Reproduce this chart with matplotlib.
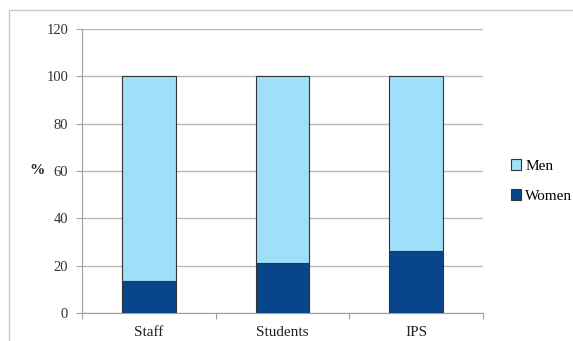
import matplotlib.pyplot as plt
from matplotlib.patches import Rectangle
import numpy as np

categories = ["Staff", "Students", "IPS"]
women = [13.5, 21.3, 26.3]
men = [100 - w for w in women]

plt.rcParams['font.family'] = ['Liberation Serif', 'DejaVu Serif']

fig = plt.figure(figsize=(5.73, 3.41), dpi=100)
W, H = 573, 341
ax = fig.add_axes([82 / W, 1 - 313 / H, (483 - 82) / W, (313 - 29) / H])

# outer frame of the chart area
fig.patches.append(Rectangle((9 / W, -0.1), 1.2, 1 - 10 / H + 0.1, transform=fig.transFigure,
                             fill=False, edgecolor='#c8c8c8', linewidth=1.0))

x = np.arange(len(categories))
light = '#9fdff9'
dark = '#07468a'
ax.bar(x, women, width=0.4, color=dark, edgecolor='#333333', linewidth=0.8, label='Women', zorder=3)
ax.bar(x, men, width=0.4, bottom=women, color=light, edgecolor='#333333', linewidth=0.8,
       label='Men', zorder=3)

ax.set_xlim(-0.5, 2.5)
ax.set_ylim(0, 120)
ax.set_yticks(range(0, 121, 20))
ax.yaxis.grid(True, color='#b8b8b8', linewidth=1.0, zorder=0)

ax.set_xticks([-0.5, 0.5, 1.5, 2.5])
ax.set_xticklabels([])
ax.set_xticks(x, minor=True)
ax.set_xticklabels(categories, minor=True)
ax.tick_params(axis='x', which='minor', length=0, pad=9, labelsize=11, labelcolor='#222222')
ax.tick_params(axis='x', which='major', length=4, color='#a0a0a0', direction='out')
ax.tick_params(axis='y', length=4, color='#a0a0a0', labelsize=10.5, pad=6, labelcolor='#333333')

for s in ['top', 'right']:
    ax.spines[s].set_visible(False)
for s in ['left', 'bottom']:
    ax.spines[s].set_color('#a0a0a0')

fig.text(37 / W, 1 - 171 / H, '%', fontsize=11, ha='center', va='center', color='#222222',
         fontweight='bold')

handles, labels = ax.get_legend_handles_labels()
ax.legend(handles[::-1], labels[::-1], loc='center left', bbox_to_anchor=(497 / W, 1 - 181 / H),
          bbox_transform=fig.transFigure, frameon=False, fontsize=11, handlelength=0.7,
          handleheight=0.7, handletextpad=0.25, labelspacing=1.1)

fig.savefig('out.png', dpi=100)
